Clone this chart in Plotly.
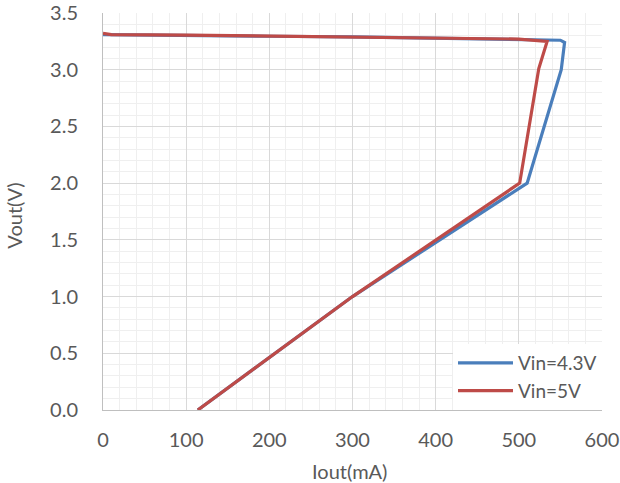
import plotly.graph_objects as go

# Data
iout_43 = [0, 100, 200, 300, 400, 500, 550, 555, 551, 510, 300, 114]
vout_43 = [3.31, 3.30, 3.295, 3.29, 3.28, 3.27, 3.26, 3.24, 3.0, 2.0, 1.0, 0.0]

iout_5 = [0, 10, 100, 200, 300, 400, 500, 534, 524, 501, 300, 114]
vout_5 = [3.32, 3.31, 3.305, 3.295, 3.29, 3.28, 3.27, 3.25, 3.01, 2.0, 1.0, 0.0]

series_names = ["Vin=4.3V", "Vin=5V"]
x_title = "Iout(mA)"
y_title = "Vout(V)"

FONT = "Lato"
TXT = "#595959"
FS = 20

fig = go.Figure()
fig.add_trace(go.Scatter(x=iout_43, y=vout_43, mode="lines", name=series_names[0],
                         line=dict(color="#4a7ebb", width=3.2)))
fig.add_trace(go.Scatter(x=iout_5, y=vout_5, mode="lines", name=series_names[1],
                         line=dict(color="#be4b48", width=3.2)))

fig.update_layout(
    width=620, height=483,
    margin=dict(l=103, r=18, t=13, b=73),
    paper_bgcolor="white", plot_bgcolor="white",
    font=dict(family=FONT, size=FS, color=TXT),
    showlegend=True,
    legend=dict(x=1, y=0, xanchor="right", yanchor="bottom",
                bgcolor="white", font=dict(size=FS - 1, color=TXT),
                tracegroupgap=0, itemwidth=55),
    annotations=[
        dict(text=x_title, xref="paper", yref="paper", x=0.494, y=-0.153,
             xanchor="center", yanchor="middle", showarrow=False,
             font=dict(size=FS, color=TXT)),
        dict(text=y_title, xref="paper", yref="paper", x=-0.178, y=0.49,
             xanchor="center", yanchor="middle", showarrow=False, textangle=-90,
             font=dict(size=FS, color=TXT)),
    ],
)
fig.update_xaxes(
    range=[0, 600], dtick=100, tick0=0, automargin=False,
    showgrid=True, gridcolor="#d9d9d9", gridwidth=1,
    minor=dict(dtick=20, showgrid=True, gridcolor="#efefef", gridwidth=1),
    showline=True, linecolor="#bfbfbf", linewidth=1, mirror=False,
    zeroline=False, ticks="", ticklabelstandoff=12,
    tickfont=dict(size=FS, color=TXT),
)
fig.update_yaxes(
    range=[0, 3.5], dtick=0.5, tick0=0, tickformat=".1f", automargin=False,
    showgrid=True, gridcolor="#d9d9d9", gridwidth=1,
    minor=dict(dtick=0.1, showgrid=True, gridcolor="#efefef", gridwidth=1),
    showline=True, linecolor="#bfbfbf", linewidth=1,
    zeroline=False, ticks="", ticklabelstandoff=20,
    tickfont=dict(size=FS, color=TXT),
)

fig.write_html("out.html", config={"displayModeBar": False},
               post_script="document.body.style.margin='0px';document.body.style.overflow='hidden';")
